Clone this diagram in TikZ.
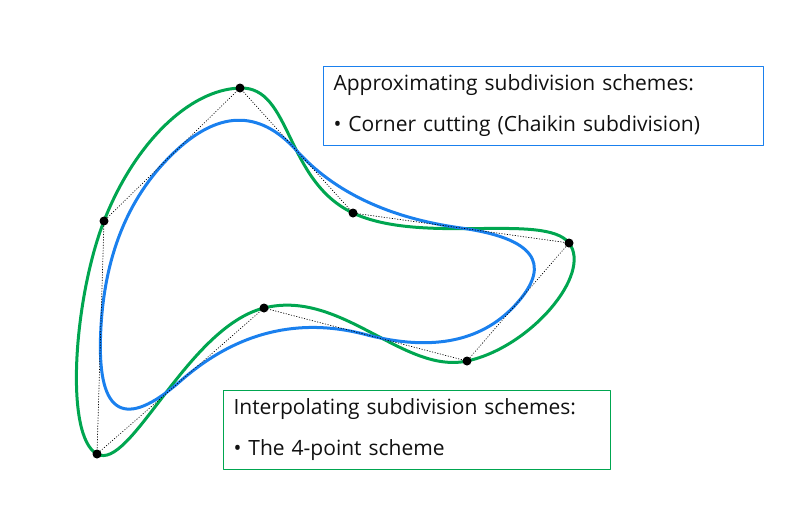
\documentclass[tikz,border=0pt]{standalone}
\usepackage{fontspec}
\setmainfont{Open Sans}
\usepackage{xcolor}
\usepackage{tikz}
\usetikzlibrary{calc,positioning}
\definecolor{sdGreen}{HTML}{00A650}
\definecolor{sdBlue}{HTML}{1A80EE}
\definecolor{sdInk}{HTML}{111111}
\tikzset{
  sd diagram/.style={font=\fontsize{21}{41}\selectfont, text=sdInk,
    line cap=round, line join=round},
  sd box/.style={draw, fill=white, line width=1pt, anchor=north west,
    align=left, text width=420pt, inner xsep=10pt, inner ysep=8pt,
    minimum height=79pt},
  sd vertex/.style={circle, fill=black, inner sep=0pt, minimum size=9pt},
  sd polygon/.style={draw=black, line width=0.7pt, dotted},
  fourpoint curve/.style={draw=sdGreen, line width=3pt},
  chaikin curve/.style={draw=sdBlue, line width=3pt}
}

\begin{document}
\begin{tikzpicture}[sd diagram,x=1pt,y=-1pt]
\useasboundingbox (0,0) rectangle (791,512);
% control polygon
\coordinate (p1) at (240,88);
\coordinate (p2) at (353,213);
\coordinate (p3) at (569,243);
\coordinate (p4) at (467,361);
\coordinate (p5) at (264,308);
\coordinate (p6) at (97,454);
\coordinate (p7) at (104,221);
\foreach \u/\v in {p1/p2,p2/p3,p3/p4,p4/p5,p5/p6,p6/p7,p7/p1}
  \coordinate (m\u\v) at ($(\u)!0.5!(\v)$);
% interpolating limit curve
\draw[fourpoint curve] plot[smooth cycle, tension=0.75]
  coordinates {(p1) (p2) (p3) (p4) (p5) (p6) (p7)};
% corner cutting limit curve
\draw[chaikin curve] (mp7p1)
  \foreach \u/\v/\w in {mp7p1/p1/mp1p2, mp1p2/p2/mp2p3, mp2p3/p3/mp3p4,
    mp3p4/p4/mp4p5, mp4p5/p5/mp5p6, mp5p6/p6/mp6p7, mp6p7/p7/mp7p1}
  { .. controls ($(\u)!2/3!(\v)$) and ($(\w)!2/3!(\v)$) .. (\w) } -- cycle;
\draw[sd polygon] (p1) -- (p2) -- (p3) -- (p4) -- (p5) -- (p6) -- (p7) -- cycle;
\foreach \p in {p1,p2,p3,p4,p5,p6,p7}
  \node[sd vertex] (v\p) at (\p) {};
% labels
\node[sd box, draw=sdBlue, text width=420pt] (approx) at (323,66)
  {Approximating subdivision schemes:\\ \textbullet{} Corner cutting (Chaikin subdivision)};
\node[sd box, draw=sdGreen, text width=367pt] (interp) at (223,390)
  {Interpolating subdivision schemes:\\ \textbullet{} The 4-point scheme};
\end{tikzpicture}
\end{document}
